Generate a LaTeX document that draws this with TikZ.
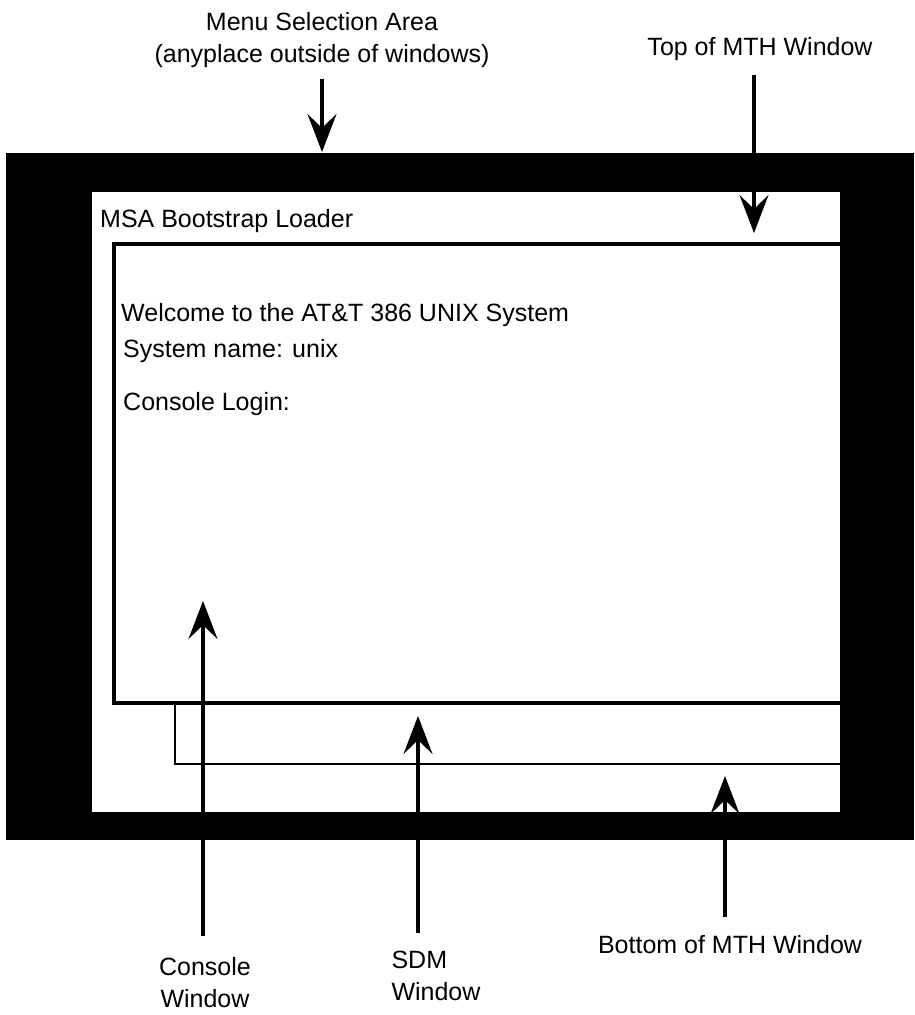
\documentclass[tikz,border=0pt]{standalone}
\usepackage{fontspec}
\setmainfont{Liberation Sans}
\usetikzlibrary{arrows.meta}

\begin{document}
\begin{tikzpicture}[x=1pt, y=-1pt,
    lbl/.style={align=center, font=\fontsize{25}{32}\selectfont, inner sep=3.3pt},
    screentext/.style={anchor=base west, font=\fontsize{25}{33}\selectfont, inner sep=0pt},
    arrow/.style={-{Stealth[length=38pt, width=29pt, inset=14pt]}, line width=3.5pt},
    conwin/.style={line width=3.5pt},
    mthwin/.style={line width=2.5pt}
]
\useasboundingbox (0,0) rectangle (914,1015);

% Screen
\fill (6,153) rectangle (914,840);
\fill[white] (92,192) rectangle (840,812);
\draw[conwin] (840,244) -- (114,244) -- (114,703) -- (840,703);
\draw[mthwin] (175,703) -- (175,764) -- (840,764);

\node[screentext] (title)   at (100,227) {MSA Bootstrap Loader};
\node[screentext] (welcome) at (121,321) {Welcome to the AT\&T 386 UNIX System};
\node[screentext] (sysname) at (123,357) {System name: unix};
\node[screentext] (login)   at (123,410) {Console Login:};

% Labels (base = last line)
\node[lbl, anchor=base] (menu)    at (322,62)   {Menu Selection Area\\(anyplace outside of windows)};
\node[lbl, anchor=base] (topmth)  at (760,55)   {Top of MTH Window};
\node[lbl, anchor=base] (console) at (205,1007) {Console\\Window};
\node[lbl, anchor=base, align=left] (sdm) at (436,1000) {SDM\\Window};
\node[lbl, anchor=base] (botmth)  at (730,953)  {Bottom of MTH Window};

\coordinate (menutip)   at (322,152);
\coordinate (topmthtip) at (754,233);
\coordinate (contip)    at (203,601);
\coordinate (sdmtip)    at (418,716);
\coordinate (botmthtip) at (725,776);

% Arrows
\draw[arrow, shorten <=8pt]  (menu.south -| menutip) -- (menutip);
\draw[arrow, shorten <=11pt] (topmth.south -| topmthtip) -- (topmthtip);
\draw[arrow, shorten <=17pt] (console.north -| contip) -- (contip);
\draw[arrow, shorten <=14pt] (sdm.north -| sdmtip) -- (sdmtip);
\draw[arrow, shorten <=14pt] (botmth.north -| botmthtip) -- (botmthtip);

\end{tikzpicture}
\end{document}
